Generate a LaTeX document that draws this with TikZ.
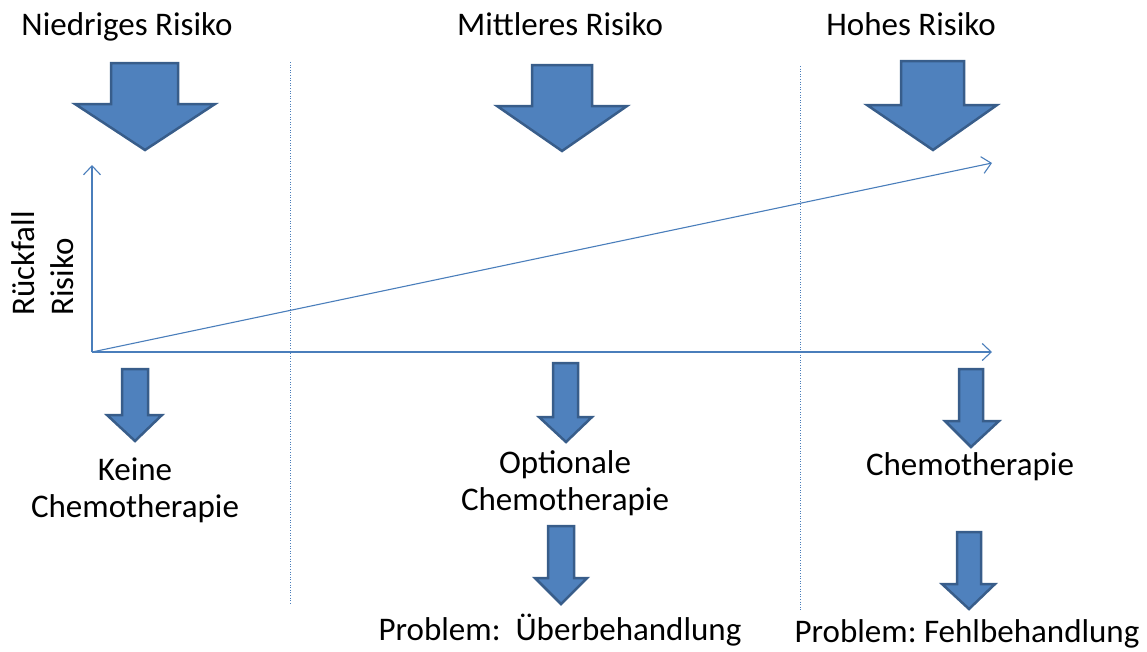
\documentclass[tikz,border=0pt]{standalone}
\usepackage{fontspec}
\setmainfont{Carlito}
\usetikzlibrary{arrows.meta}
\definecolor{arrowfill}{HTML}{4F81BD}
\definecolor{arrowedge}{HTML}{385D8A}
\definecolor{axisblue}{HTML}{4A7EBB}
\frenchspacing
% #1 shaft left, #2 shaft right, #3 top, #4 head base, #5 head left, #6 head right, #7 tip x, #8 tip y
\newcommand\RiskArrow[8]{%
  \draw[blockarrow] (#1,#3) -- (#2,#3) -- (#2,#4) -- (#6,#4) -- (#7,#8) -- (#5,#4) -- (#1,#4) -- cycle;}
\begin{document}
\begin{tikzpicture}[x=1pt,y=-1pt,
  blockarrow/.style={fill=arrowfill,draw=arrowedge,line width=2.5pt,line join=miter},
  axisline/.style={draw=axisblue,line width=1.1pt,-{Straight Barb[length=9pt,width=17pt,line width=1.1pt]}},
  divider/.style={draw=axisblue,line width=1pt,dash pattern=on 1pt off 1.6pt},
  lbl/.style={font=\fontsize{33}{37}\selectfont,inner sep=0pt,anchor=base},
  mlbl/.style={lbl,align=center,anchor=base}]
\useasboundingbox (0,0) rectangle (1147,651);
% dividers
\coordinate (d1t) at (290,62); \coordinate (d1b) at (290,603);
\coordinate (d2t) at (800,66); \coordinate (d2b) at (800,610);
\draw[divider] (d1t) -- (d1b);
\draw[divider] (d2t) -- (d2b);
% top labels
\node[lbl] (low) at (127,35) {Niedriges Risiko};
\node[lbl] (mid) at (560,35) {Mittleres Risiko};
\node[lbl] (high) at (911,35) {Hohes Risiko};
% big arrows
\RiskArrow{111}{178}{63}{104}{75}{215}{145}{150}
\RiskArrow{532}{592}{65}{106}{497}{627}{562}{151}
\RiskArrow{901}{964}{61}{105}{867}{997}{933}{150}
% axes
\coordinate (o) at (92,352);
\coordinate (ytop) at (92,165);
\coordinate (xend) at (992,352);
\coordinate (dend) at (992,163);
\draw[axisline] (o) -- (ytop);
\draw[axisline] (o) -- (xend);
\draw[axisline] (o) -- (dend);
% axis label
\node[lbl,anchor=base west,rotate=90] (ylab1) at (34,316) {Rückfall};
\node[lbl,anchor=base west,rotate=90] (ylab2) at (73,316) {Risiko};
% small arrows
\RiskArrow{122}{148}{369}{415}{107}{162}{135}{441}
\RiskArrow{553}{578}{363}{417}{539}{592}{566}{442}
\RiskArrow{959}{983}{369}{421}{945}{999}{971}{447}
\RiskArrow{548}{574}{526}{578}{535}{587}{561}{604}
\RiskArrow{957}{981}{532}{584}{942}{995}{969}{609}
% bottom labels (base anchor = last line)
\node[mlbl] (keine) at (135,517) {Keine\\Chemotherapie};
\node[mlbl] (opt) at (565,510) {Optionale\\Chemotherapie};
\node[lbl] (chemo) at (970,475) {Chemotherapie};
\node[lbl] (prob1) at (560,640) {Problem:\ \ Überbehandlung};
\node[lbl] (prob2) at (967,642) {Problem: Fehlbehandlung};
\end{tikzpicture}
\end{document}
